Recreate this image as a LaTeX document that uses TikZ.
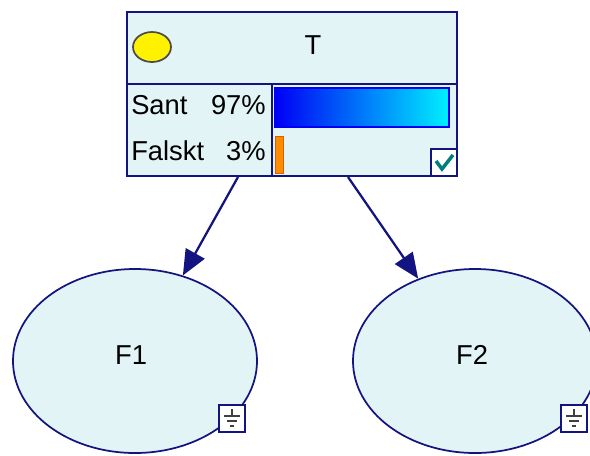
\documentclass[tikz,border=0pt]{standalone}
\usepackage{fontspec}
\setmainfont{Liberation Sans}
\usetikzlibrary{arrows.meta,shapes.geometric}
\definecolor{netblau}{RGB}{20,20,128}
\definecolor{nodefill}{RGB}{226,244,245}
\definecolor{barblau}{RGB}{0,0,245}
\definecolor{barcyan}{RGB}{0,240,255}
\definecolor{barorange}{RGB}{255,140,0}
\definecolor{checkteal}{RGB}{0,125,125}

\tikzset{
  chance/.style={ellipse, draw=netblau, fill=nodefill, line width=1.3,
    minimum width=183pt, minimum height=138pt, inner sep=0pt},
  tbox/.style={rectangle, draw=netblau, fill=nodefill, line width=1.3,
    minimum width=247.5pt, minimum height=123pt, inner sep=0pt},
  lbl/.style={inner sep=0pt, font=\fontsize{20.5}{24}\selectfont},
  arc/.style={-{Triangle[length=19pt,width=16pt]}, draw=netblau, line width=1.7}
}

\begin{document}
\begin{tikzpicture}[x=0.75pt,y=-0.75pt]
\useasboundingbox (0,0) rectangle (590,455);

\def\thickness{1.3}

% Child nodes
\node[chance] (F1) at (135,361) {};
\node[chance] (F2) at (475,361) {};
\node[lbl] (F1lbl) at (131,355) {F1};
\node[lbl] (F2lbl) at (472,355) {F2};

% Ground icons
\foreach \gx in {219,561} {
  \draw[netblau, line width=2, fill=white] (\gx,405) rectangle (\gx+26,432);
  \draw[black!75, line width=1] (\gx+13,409) -- (\gx+13,416);
  \draw[black!75, line width=1] (\gx+5,416) -- (\gx+21,416);
  \draw[black!75, line width=1] (\gx+8,421) -- (\gx+18,421);
  \draw[black!75, line width=1] (\gx+11,426) -- (\gx+15,426);
}

% Parent node
\node[tbox] (T) at (292,94) {};
\draw[netblau, line width=\thickness] (127,84) -- (457,84);
\draw[netblau, line width=\thickness] (272,84) -- (272,176);

% Yellow state marker
\draw[fill=yellow, draw=black!70, line width=1.3] (152,47) ellipse [x radius=14.25pt, y radius=11.25pt];
\node[lbl] (Tlbl) at (313,45) {T};

% States and percentages
\node[lbl, anchor=west] (s1) at (131,105) {Sant};
\node[lbl, anchor=east] (p1) at (266,105) {97\%};
\node[lbl, anchor=west] (s2) at (131,151) {Falskt};
\node[lbl, anchor=east] (p2) at (266,151) {3\%};

% Bars
\shade[left color=barblau, right color=barcyan] (275,88) rectangle (449,127);
\draw[barblau, line width=1] (275,88) rectangle (449,127);
\fill[barorange] (275,136) rectangle (283,173);
\draw[orange!80!black, line width=0.6] (275,136) rectangle (283,173);

% Check box
\draw[netblau, line width=2, fill=white] (431,149) rectangle (457,176);
\draw[checkteal, line width=2.6] (436,161) -- (442,169) -- (453,155);

% Arrows
\coordinate (a1) at (238,177);
\coordinate (a2) at (348,177);
\draw[arc] (a1) -- (F1);
\draw[arc] (a2) -- (F2);

\end{tikzpicture}
\end{document}
